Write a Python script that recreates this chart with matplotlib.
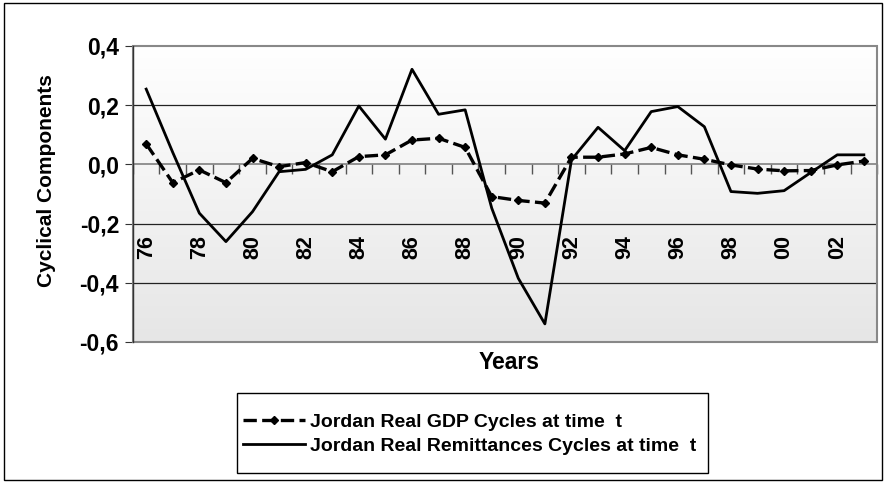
import numpy as np
import matplotlib.pyplot as plt
from matplotlib.colors import LinearSegmentedColormap
from matplotlib.patches import Rectangle

plt.rcParams['font.family'] = ['Liberation Sans', 'DejaVu Sans']
plt.rcParams['font.weight'] = 'bold'

years = ['76', '77', '78', '79', '80', '81', '82', '83', '84', '85', '86', '87', '88', '89',
         '90', '91', '92', '93', '94', '95', '96', '97', '98', '99', '00', '01', '02', '03']

gdp = [0.069, -0.062, -0.019, -0.062, 0.020, -0.008, 0.006, -0.025, 0.026, 0.032,
       0.082, 0.088, 0.057, -0.109, -0.122, -0.131, 0.024, 0.024, 0.035, 0.057,
       0.032, 0.017, -0.002, -0.016, -0.022, -0.021, -0.002, 0.011]

remit = [0.254, 0.040, -0.165, -0.261, -0.160, -0.025, -0.017, 0.032, 0.197, 0.085,
         0.321, 0.169, 0.184, -0.148, -0.385, -0.539, 0.015, 0.125, 0.046, 0.178,
         0.195, 0.127, -0.092, -0.098, -0.089, -0.028, 0.032, 0.032]

yticks = [-0.6, -0.4, -0.2, 0.0, 0.2, 0.4]

x = np.arange(len(years))

fig = plt.figure(figsize=(8.86, 4.83), dpi=100)
ax = fig.add_axes([0.150, 0.292, 0.840, 0.613])

# gradient background of the plot area
cmap = LinearSegmentedColormap.from_list('bg', ['#e6e6e6', '#ffffff'])
ax.imshow(np.linspace(0, 1, 256).reshape(-1, 1), cmap=cmap, origin='lower',
          extent=[-0.5, len(years) - 0.5, -0.6, 0.4], aspect='auto', zorder=0)

for yv in [-0.4, -0.2, 0.2]:
    ax.axhline(yv, color='#222222', lw=0.9, zorder=1)

ax.plot(x, gdp, color='black', lw=2.4, ls=(0, (4, 1.6)), marker='D', ms=4.5,
        label='Jordan Real GDP Cycles at time  t', zorder=3)
ax.plot(x, remit, color='black', lw=2.0,
        label='Jordan Real Remittances Cycles at time  t', zorder=3)

ax.set_xlim(-0.5, len(years) - 0.5)
ax.set_ylim(-0.6, 0.4)

for s in ['top', 'right', 'left']:
    ax.spines[s].set_visible(False)
ax.spines['bottom'].set_position(('data', 0))
ax.spines['bottom'].set_color('#808080')
ax.spines['bottom'].set_linewidth(1.2)
ax.add_patch(Rectangle((0, 0), 1, 1, transform=ax.transAxes, fill=False,
                       edgecolor='#888888', lw=1.5, zorder=4, clip_on=False))
ax.plot([0, 0], [0, 1], transform=ax.transAxes, color='#333333', lw=1.0, zorder=5, clip_on=False)

ax.set_xticks(np.arange(-0.5, len(years), 1))
ax.set_xticklabels([])
ax.tick_params(axis='x', which='major', direction='out', length=7, color='#555555', width=1)
ax.set_xticks(x[::2], minor=True)
ax.set_xticklabels(years[::2], minor=True, rotation=90, fontsize=15.5, fontweight='bold')
ax.tick_params(axis='x', which='minor', length=0, pad=51)

ax.set_yticks(yticks)
ax.set_yticklabels([f'{v:.1f}'.replace('.', ',') for v in yticks], fontsize=16.5, fontweight='bold')
ax.tick_params(axis='y', direction='out', length=6, color='#333333', pad=4)

fig.text(0.053, 0.627, 'Cyclical Components', rotation=90, ha='center', va='center',
         fontsize=15, fontweight='bold')
fig.text(0.575, 1 - 369 / 483, 'Years', ha='center', va='baseline', fontsize=16.5,
         fontweight='bold')

leg = fig.legend(loc='upper left', bbox_to_anchor=(243 / 886, 1 - 413 / 483),
                 borderaxespad=0, frameon=False, prop={'size': 14, 'weight': 'bold'},
                 handlelength=3.2, handletextpad=0.25, borderpad=0, labelspacing=0.33)

fig.add_artist(Rectangle((237 / 886, 1 - 473 / 483), 471 / 886, 80 / 483,
                         transform=fig.transFigure, fill=False, edgecolor='black', lw=1.0))
fig.add_artist(Rectangle((0.004, 0.006), 0.992, 0.988, transform=fig.transFigure,
                         fill=False, edgecolor='black', lw=1.0))

fig.savefig('out.png', dpi=100)
